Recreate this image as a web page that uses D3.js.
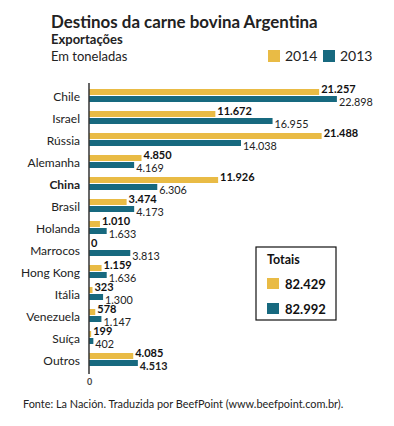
<!DOCTYPE html>
<html>
<head>
<meta charset="utf-8">
<script src="https://cdn.jsdelivr.net/npm/d3@7"></script>
<style>
  body { margin: 0; background: #fff; }
  svg { font-family: Lato, "Open Sans", sans-serif; }
</style>
</head>
<body>
<div id="chart"></div>
<script>
var w = 394;
var h = 426;

var countries = ["Chile", "Israel", "Rússia", "Alemanha", "China", "Brasil", "Holanda",
    "Marrocos", "Hong Kong", "Itália", "Venezuela", "Suíça", "Outros"];
var values2014 = [21257, 11672, 21488, 4850, 11926, 3474, 1010, 0, 1159, 323, 578, 199, 4085];
var values2013 = [22898, 16955, 14038, 4169, 6306, 4173, 1633, 3813, 1636, 1300, 1147, 402, 4513];
var years = ["2014", "2013"];
var totals = [82429, 82992];
var colors = ["#e9bb45", "#17697f"];

// thousands with a dot, like the original
var fmt = function(v) { return d3.format(",")(v).replace(/,/g, "."); };

var svg = d3.select("#chart").append("svg")
    .attr("width", w)
    .attr("height", h);

var xScale = d3.scaleLinear().domain([0, 23000]).range([89, 338]);
var yScale = d3.scaleBand().domain(countries).range([86, 372]);

// titles
svg.append("text").attr("x", 51).attr("y", 28)
    .style("font-size", "16.9px").style("font-weight", "bold").attr("fill", "#222")
    .text("Destinos da carne bovina Argentina");
svg.append("text").attr("x", 51).attr("y", 44)
    .style("font-size", "13px").style("font-weight", "bold").attr("fill", "#222")
    .text("Exportações");
svg.append("text").attr("x", 51).attr("y", 61)
    .style("font-size", "13px").attr("fill", "#222")
    .text("Em toneladas");

// legend
var legend = svg.selectAll(".legend").data(years).enter().append("g")
    .attr("transform", function(d, i) { return "translate(" + (268 + i * 55) + ",50)"; });
legend.append("rect").attr("width", 12).attr("height", 12)
    .attr("fill", function(d, i) { return colors[i]; });
legend.append("text").attr("x", 17).attr("y", 11)
    .style("font-size", "14px").attr("fill", "#222")
    .text(function(d) { return d; });

// bars 2014
svg.selectAll(".b14").data(countries).enter().append("rect")
    .attr("x", xScale(0))
    .attr("y", function(d) { return yScale(d) + 3; })
    .attr("width", function(d, i) { return xScale(values2014[i]) - xScale(0); })
    .attr("height", 6)
    .attr("fill", colors[0]);

// bars 2013
svg.selectAll(".b13").data(countries).enter().append("rect")
    .attr("x", xScale(0))
    .attr("y", function(d) { return yScale(d) + 10; })
    .attr("width", function(d, i) { return xScale(values2013[i]) - xScale(0); })
    .attr("height", 6)
    .attr("fill", colors[1]);

// value labels
svg.selectAll(".l14").data(countries).enter().append("text")
    .attr("x", function(d, i) { return xScale(values2014[i]) + 2; })
    .attr("y", function(d) { return yScale(d) + 7; })
    .style("font-size", "11px").style("font-weight", "bold").attr("fill", "#111")
    .text(function(d, i) { return fmt(values2014[i]); });

svg.selectAll(".l13").data(countries).enter().append("text")
    .attr("x", function(d, i) { return xScale(values2013[i]) + 2; })
    .attr("y", function(d) { return yScale(d) + 20; })
    .style("font-size", "10.8px")
    .style("font-weight", function(d) { return d == "Outros" ? "bold" : "normal"; })
    .attr("fill", "#222")
    .text(function(d, i) { return fmt(values2013[i]); });

// country axis
var yAxis = svg.append("g")
    .attr("transform", "translate(" + xScale(0) + ",0)")
    .call(d3.axisLeft(yScale).tickSize(0).tickPadding(9));
yAxis.select(".domain").attr("stroke", "#333").attr("stroke-width", 1.5)
    .attr("d", "M0,83V374");
yAxis.selectAll("text")
    .style("font-size", "12px").attr("fill", "#222")
    .style("font-family", "Lato, sans-serif")
    .style("font-weight", function(d) { return d == "China" ? "bold" : "normal"; });

// zero tick
var xAxis = svg.append("g")
    .attr("transform", "translate(0,376)")
    .call(d3.axisBottom(xScale).tickValues([0]).tickSize(0).tickPadding(3));
xAxis.select(".domain").remove();
xAxis.selectAll("text").style("font-size", "9px").style("font-weight", "bold")
    .style("font-family", "Lato, sans-serif").attr("fill", "#444");

// totals box
var box = svg.append("g").attr("transform", "translate(256,247)");
box.append("rect").attr("width", 80).attr("height", 73)
    .attr("fill", "#fff").attr("stroke", "#111").attr("stroke-width", 1.2);
box.append("text").attr("x", 11).attr("y", 17)
    .style("font-size", "12.5px").style("font-weight", "bold").attr("fill", "#111")
    .text("Totais");
var tot = box.selectAll(".tot").data(totals).enter().append("g")
    .attr("transform", function(d, i) { return "translate(11," + (31 + i * 25) + ")"; });
tot.append("rect").attr("width", 12).attr("height", 11)
    .attr("fill", function(d, i) { return colors[i]; });
tot.append("text").attr("x", 18).attr("y", 11)
    .style("font-size", "13px").style("font-weight", "bold").attr("fill", "#111")
    .text(function(d) { return fmt(d); });

// source
svg.append("text").attr("x", 23).attr("y", 408)
    .style("font-size", "10.9px").attr("fill", "#222")
    .text("Fonte: La Nación. Traduzida por BeefPoint (www.beefpoint.com.br).");
</script>
</body>
</html>
